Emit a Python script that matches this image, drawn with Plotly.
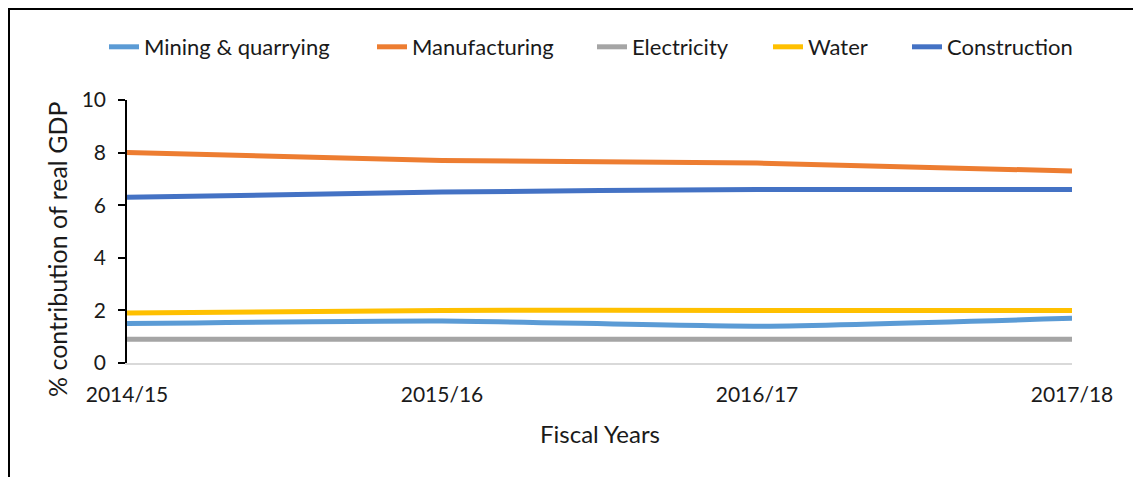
import plotly.graph_objects as go

years = ["2014/15", "2015/16", "2016/17", "2017/18"]
mining = [1.5, 1.6, 1.4, 1.7]
manufacturing = [8.0, 7.7, 7.6, 7.3]
electricity = [0.9, 0.9, 0.9, 0.9]
water = [1.9, 2.0, 2.0, 2.0]
construction = [6.3, 6.5, 6.6, 6.6]

series = [
    ("Mining & quarrying", mining, "#5B9BD5"),
    ("Manufacturing", manufacturing, "#ED7D31"),
    ("Electricity", electricity, "#A5A5A5"),
    ("Water", water, "#FFC000"),
    ("Construction", construction, "#4472C4"),
]

# left edge (px) of each legend entry along the top row
legend_left = [104, 372, 592, 768, 907]

FONT = "Lato, Carlito, Calibri, sans-serif"

W, H = 1133, 477
L, R, T, B = 127, 61, 100, 114
pw, ph = W - L - R, H - T - B

def px_x(p):
    return (p - L) / pw

def px_y(p):
    return (H - B - p) / ph

fig = go.Figure()
legend_layouts = {}
for i, (name, vals, color) in enumerate(series):
    key = "legend" if i == 0 else f"legend{i + 1}"
    fig.add_trace(go.Scatter(
        x=list(range(len(years))), y=vals, name=name, mode="lines",
        line=dict(color=color, width=5, shape="spline", smoothing=0.6),
        legend=key,
    ))
    legend_layouts[key] = dict(
        orientation="h", x=px_x(legend_left[i]), xanchor="left",
        y=px_y(47), yanchor="middle", font=dict(size=22),
        bgcolor="rgba(0,0,0,0)", itemwidth=30,
    )

# outer frame: left and top edges
fig.add_shape(type="line", xref="paper", yref="paper",
              x0=px_x(9), x1=px_x(9), y0=px_y(9), y1=px_y(490),
              line=dict(color="black", width=2))
fig.add_shape(type="line", xref="paper", yref="paper",
              x0=px_x(8), x1=px_x(1140), y0=px_y(9), y1=px_y(9),
              line=dict(color="black", width=2))

# axis titles
fig.add_annotation(text="% contribution of real GDP", xref="paper", yref="paper",
                   x=px_x(57), y=px_y(250), xanchor="center", yanchor="middle",
                   textangle=-90, showarrow=False, font=dict(size=25))
fig.add_annotation(text="Fiscal Years", xref="paper", yref="paper",
                   x=px_x(600), y=px_y(433), xanchor="center", yanchor="middle",
                   showarrow=False, font=dict(size=24))

fig.update_layout(
    width=W, height=H,
    margin=dict(l=L, r=R, t=T, b=B),
    paper_bgcolor="white", plot_bgcolor="white",
    font=dict(family=FONT, size=21, color="#1a1a1a"),
    showlegend=True,
    **legend_layouts,
    xaxis=dict(
        range=[0, 3], tickmode="array", tickvals=list(range(len(years))), ticktext=years,
        showgrid=False, zeroline=False, showline=True, linecolor="#d9d9d9", linewidth=1.5,
        ticks="", ticklabelstandoff=12, tickfont=dict(size=21),
    ),
    yaxis=dict(
        range=[0, 10], dtick=2, showgrid=False, zeroline=False,
        showline=True, linecolor="black", linewidth=1.5,
        ticks="outside", ticklen=7, tickcolor="black", tickwidth=1.5,
        ticklabelstandoff=8, tickfont=dict(size=21),
    ),
)

fig.write_html("out.html")
